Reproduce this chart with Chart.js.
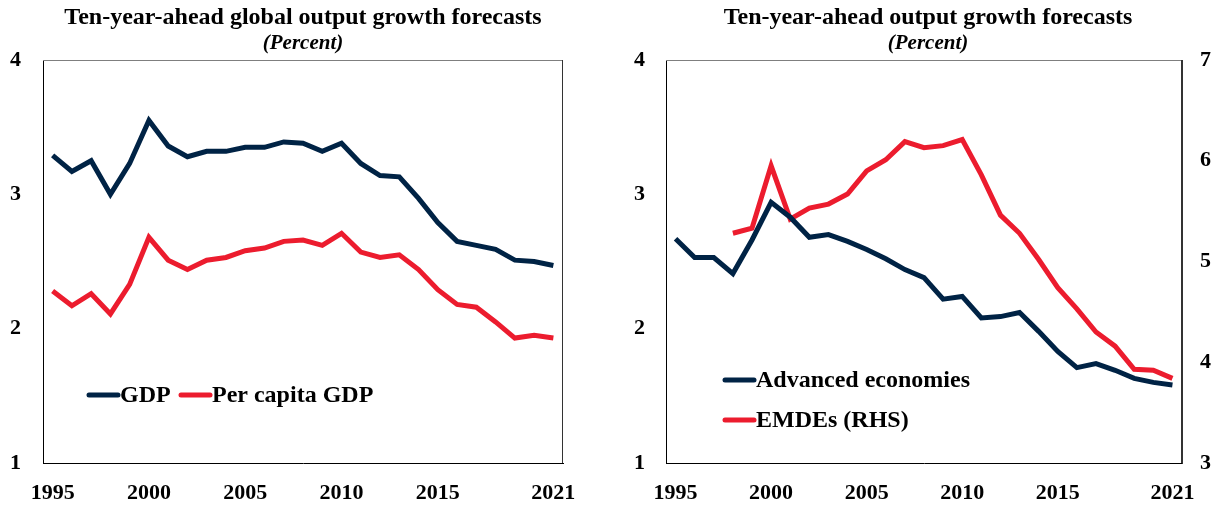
<!DOCTYPE html>
<html>
<head>
<meta charset="utf-8">
<script src="https://cdn.jsdelivr.net/npm/chart.js@4.4.1/dist/chart.umd.min.js"></script>
<style>
  html, body { margin: 0; padding: 0; background: #fff; overflow: hidden; }
  #wrap { position: relative; width: 1213px; height: 506px; overflow: hidden; }
  #leftChart { position: absolute; left: 0; top: 0; }
  #rightChart { position: absolute; left: 622px; top: 0; }
</style>
</head>
<body>
<div id="wrap">
  <canvas id="leftChart" width="606" height="506"></canvas>
  <canvas id="rightChart" width="612" height="506"></canvas>
</div>
<script>
  // years on the x axis and which of them get a label
  const years = [];
  for (let y = 1995; y <= 2021; y++) years.push(String(y));
  const shownYears = ["1995", "2000", "2005", "2010", "2015", "2021"];

  // left panel: global forecasts (percent)
  const gdp = [3.29, 3.17, 3.25, 3.00, 3.23, 3.55, 3.36, 3.28, 3.32, 3.32,
               3.35, 3.35, 3.39, 3.38, 3.32, 3.38, 3.23, 3.14, 3.13, 2.97,
               2.79, 2.65, 2.62, 2.59, 2.51, 2.50, 2.47];
  const perCapitaGdp = [2.28, 2.17, 2.26, 2.11, 2.33, 2.68, 2.51, 2.44, 2.51, 2.53,
                        2.58, 2.60, 2.65, 2.66, 2.62, 2.71, 2.57, 2.53, 2.55, 2.44,
                        2.29, 2.18, 2.16, 2.05, 1.93, 1.95, 1.93];

  // right panel: advanced economies (LHS) and EMDEs (RHS)
  const advanced = [2.67, 2.53, 2.53, 2.41, 2.66, 2.94, 2.83, 2.68, 2.70, 2.65,
                    2.59, 2.52, 2.44, 2.38, 2.22, 2.24, 2.08, 2.09, 2.12, 1.98,
                    1.83, 1.71, 1.74, 1.69, 1.63, 1.60, 1.58];
  const emdes = [null, null, null, 5.28, 5.33, 5.95, 5.42, 5.53, 5.57, 5.67,
                 5.90, 6.01, 6.19, 6.13, 6.15, 6.21, 5.86, 5.46, 5.28, 5.02,
                 4.74, 4.53, 4.30, 4.16, 3.93, 3.92, 3.84];

  const NAVY = "#002345";
  const RED = "#ec1c2e";
  const SERIF = "'Liberation Serif', 'Times New Roman', serif";

  // top and right edges of the plot frame
  const framePlugin = {
    id: "frame",
    beforeDatasetsDraw(chart) {
      const a = chart.chartArea, ctx = chart.ctx;
      ctx.save();
      ctx.lineWidth = 1;
      ctx.strokeStyle = "#7f7f7f";
      ctx.beginPath();
      ctx.moveTo(a.left, a.top + 0.5);
      ctx.lineTo(a.right, a.top + 0.5);
      ctx.stroke();
      ctx.strokeStyle = "#333";
      ctx.beginPath();
      ctx.moveTo(a.right - 0.5, a.top);
      ctx.lineTo(a.right - 0.5, a.bottom);
      ctx.stroke();
      ctx.restore();
    }
  };

  // legend drawn inside the plot area
  const insideLegend = {
    id: "insideLegend",
    afterDatasetsDraw(chart, args, opts) {
      const ctx = chart.ctx;
      ctx.save();
      ctx.font = "bold 24px " + SERIF;
      ctx.textBaseline = "middle";
      ctx.fillStyle = "#000";
      chart.data.datasets.forEach((ds, i) => {
        const p = opts.items[i];
        ctx.strokeStyle = ds.borderColor;
        ctx.lineWidth = 5;
        ctx.lineCap = "round";
        ctx.beginPath();
        ctx.moveTo(p.x, p.y);
        ctx.lineTo(p.x + 29, p.y);
        ctx.stroke();
        ctx.fillText(ds.label, p.x + 31, p.y + 1);
      });
      ctx.restore();
    }
  };

  function tickFont() {
    return { family: SERIF, size: 22, weight: "bold" };
  }

  function xScale() {
    return {
      type: "category",
      offset: true,
      grid: { display: false, drawTicks: false },
      border: { display: true, color: "#000", width: 1 },
      ticks: {
        autoSkip: false, maxRotation: 0, padding: 17, color: "#000", font: tickFont(),
        callback(v) {
          const lab = this.getLabelForValue(v);
          return shownYears.includes(lab) ? lab : "";
        }
      },
      afterFit(s) { s.height = 43; }
    };
  }

  function yScale(min, max, pos, width, pad) {
    return {
      position: pos, min: min, max: max,
      grid: { display: false, drawTicks: false },
      border: { display: true, color: pos === "left" ? "#000" : "#333", width: 1 },
      ticks: { stepSize: 1, padding: pad, color: "#000", font: tickFont() },
      afterFit(s) { s.width = width; }
    };
  }

  // empty right-hand strip so the left title stays centred on the canvas
  function spacerScale(width) {
    return {
      position: "right", min: 0, max: 1,
      grid: { display: false, drawTicks: false },
      border: { display: false },
      ticks: { display: false },
      afterFit(s) { s.width = width; }
    };
  }

  function titles(text) {
    return {
      title: {
        display: true, text: text, color: "#000",
        font: { family: SERIF, size: 24, weight: "bold", lineHeight: 1.1 },
        padding: { top: 5, bottom: 1 }
      },
      subtitle: {
        display: true, text: "(Percent)", color: "#000",
        font: { family: SERIF, size: 21, weight: "bold", style: "italic", lineHeight: 1.1 },
        padding: { top: 0, bottom: 4.5 }
      }
    };
  }

  function line(label, data, color, axis) {
    return {
      label: label, data: data, borderColor: color, backgroundColor: color,
      borderWidth: 5, pointRadius: 0, tension: 0, yAxisID: axis, spanGaps: false
    };
  }

  new Chart(document.getElementById("leftChart"), {
    type: "line",
    data: {
      labels: years,
      datasets: [
        line("GDP", gdp, NAVY, "y"),
        line("Per capita GDP", perCapitaGdp, RED, "y")
      ]
    },
    options: {
      responsive: false, animation: false,
      layout: { padding: 0 },
      scales: { x: xScale(), y: yScale(1, 4, "left", 43, 22), pad: spacerScale(43) },
      plugins: Object.assign(titles("Ten-year-ahead global output growth forecasts"), {
        legend: { display: false },
        tooltip: { enabled: false },
        insideLegend: { items: [{ x: 89, y: 395 }, { x: 181, y: 395 }] }
      })
    },
    plugins: [framePlugin, insideLegend]
  });

  new Chart(document.getElementById("rightChart"), {
    type: "line",
    data: {
      labels: years,
      datasets: [
        line("Advanced economies", advanced, NAVY, "y"),
        line("EMDEs (RHS)", emdes, RED, "y2")
      ]
    },
    options: {
      responsive: false, animation: false,
      layout: { padding: 0 },
      scales: {
        x: xScale(),
        y: yScale(1, 4, "left", 44, 21),
        y2: yScale(3, 7, "right", 52, 18)
      },
      plugins: Object.assign(titles("Ten-year-ahead output growth forecasts"), {
        legend: { display: false },
        tooltip: { enabled: false },
        insideLegend: { items: [{ x: 103, y: 380 }, { x: 103, y: 420 }] }
      })
    },
    plugins: [framePlugin, insideLegend]
  });
</script>
</body>
</html>
